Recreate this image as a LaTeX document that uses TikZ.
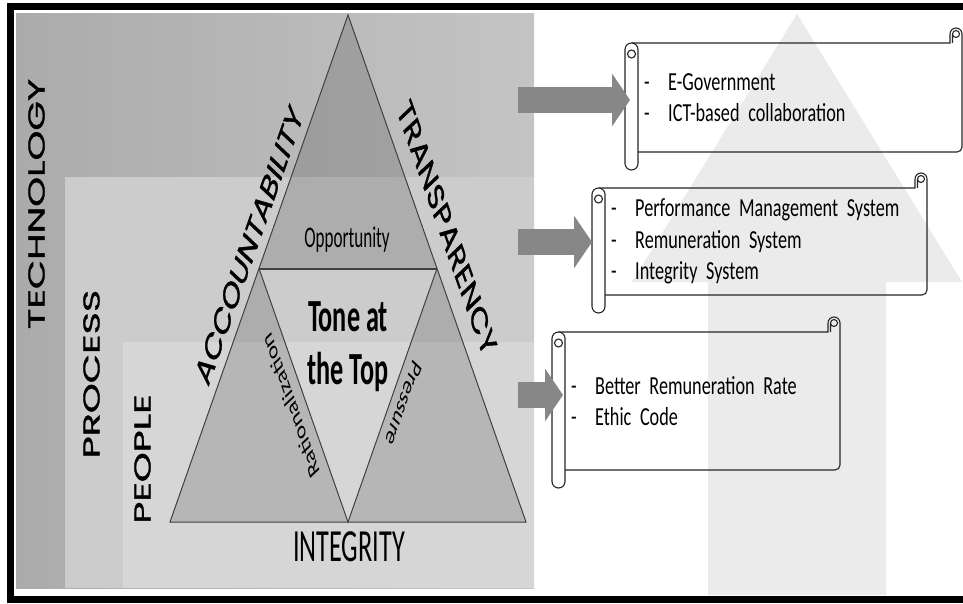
\documentclass[tikz,border=0pt]{standalone}
\usepackage{fontspec}
\setmainfont{Carlito}
\newfontfamily\geofont[FakeBold=1.2]{Poppins}
\newfontfamily\listfont[FakeStretch=0.7]{Carlito}
\newfontfamily\trifont[FakeStretch=0.57]{Carlito}
\usepackage{graphicx}
\usetikzlibrary{arrows.meta, positioning}

\definecolor{techgrayL}{gray}{0.67}
\definecolor{techgrayR}{gray}{0.77}
\definecolor{procgray}{gray}{0.80}
\definecolor{peoplegray}{gray}{0.84}
\definecolor{pillargray}{gray}{0.92}
\definecolor{arrowgray}{gray}{0.53}
\definecolor{edgegray}{gray}{0.25}

% rotate a label, then squeeze it sideways
\newcommand\tiltlabel[2]{\scalebox{0.61}[1]{\rotatebox{#1}{#2}}}
\newcommand\dashitem[1]{\makebox[24pt][l]{-}#1}
\newcommand\tightspaces{\fontdimen2\font=4.5pt\fontdimen3\font=1pt\relax}

\begin{document}
\begin{tikzpicture}[x=1pt, y=-1pt,
    bandlabel/.style={inner sep=0pt, font=\geofont\fontsize{38}{40}\selectfont},
    trilabel/.style={inner sep=0pt, font=\trifont\fontsize{30}{32}\selectfont},
    edgeline/.style={draw=edgegray, line width=1pt},
    scrollline/.style={draw=black!85, line width=1.1pt},
    listbox/.style={anchor=north west, inner xsep=19pt, inner ysep=0pt, align=left,
        font=\listfont\fontsize{26}{31.5}\selectfont\tightspaces},
    blockarrow/.style={arrowgray, line width=26pt, -{Triangle[length=18pt, width=52pt]}}]

    \fill[white] (0,0) rectangle (963,604);
    \useasboundingbox (0,0) rectangle (963,604);

    % Background pillar
    \fill[pillargray] (708,595) -- (708,282) -- (632,282) -- (797,14) -- (962,282) -- (886,282) -- (886,595) -- cycle;

    % Gray bands
    \shade[left color=techgrayL, right color=techgrayR] (16,14) rectangle (534,588);
    \fill[procgray] (65,177) rectangle (534,588);
    \fill[peoplegray] (123,342) rectangle (534,588);

    % Triangle
    \coordinate (apex) at (348,15);
    \coordinate (baseL) at (170,522);
    \coordinate (baseR) at (526,522);
    \coordinate (midL) at (259,268.5);
    \coordinate (midR) at (437,268.5);
    \coordinate (midB) at (348,522);

    \foreach \a/\b/\c in {apex/midL/midR, midL/baseL/midB, midR/midB/baseR} {
        \fill[black, fill opacity=0.15] (\a) -- (\b) -- (\c) -- cycle;
    }
    \draw[edgeline] (apex) -- (baseL) -- (baseR) -- cycle;
    \draw[edgeline] (midL) -- (midB) -- (midR);
    \draw[edgeline, line width=2pt] (midL) -- (midR);

    % Labels
    \node[bandlabel] (technology) at (36.5,204) {\tiltlabel{90}{TECHNOLOGY}};
    \node[bandlabel] (process) at (91.5,374) {\tiltlabel{90}{PROCESS}};
    \node[bandlabel] (people) at (142.5,459) {\tiltlabel{90}{PEOPLE}};
    \node[bandlabel] (accountability) at (249,245) {\tiltlabel{60}{ACCOUNTABILITY}};
    \node[bandlabel] (transparency) at (447,228) {\tiltlabel{-60}{TRANSPARENCY}};

    \node[trilabel] (opportunity) at (347,240) {Opportunity};
    \node[inner sep=0pt, align=center, font=\trifont\bfseries\fontsize{46}{53}\selectfont] (tone) at (348,347) {Tone at\\the Top};
    \node[inner sep=0pt, font=\fontsize{27}{30}\selectfont] (rationalization) at (291,406) {\tiltlabel{120}{Rationalization}};
    \node[inner sep=0pt, font=\fontsize{27}{30}\selectfont] (pressure) at (404,404) {\tiltlabel{-120}{Pressure}};
    \node[inner sep=0pt, font=\trifont\fontsize{46}{50}\selectfont] (integrity) at (349,547) {INTEGRITY};

    % Scrolls
    \foreach \xa/\ya/\xb/\yb in {625/43/962/152, 592/188/927/295, 552/332/840/470} {
        \draw[scrollline] (\xa+6.5,\ya) -- (\xb-12,\ya) -- (\xb-12,\ya-9) arc[start angle=180, end angle=360, radius=6]
            -- (\xb,\yb-5) arc[start angle=0, end angle=90, radius=5] -- (\xa+6.5,\yb);
        \draw[scrollline] (\xb-6,\ya-9) circle[radius=3.5] (\xb-9.5,\ya-9) -- (\xb-9.5,\ya);
        \draw[scrollline, fill=white, rounded corners=6.5pt] (\xa,\ya) rectangle (\xa+13,\yb+18);
        \draw[scrollline] (\xa+6.5,\ya+11) circle[radius=4];
    }

    \node[listbox, text width=299pt, minimum height=109pt] (techbox) at (625,43)
        {\dashitem{E-Government}\\ \dashitem{ICT-based collaboration}};
    \node[listbox, text width=297pt, minimum height=107pt] (procbox) at (592,188)
        {\dashitem{Performance Management System}\\ \dashitem{Remuneration System}\\ \dashitem{Integrity System}};
    \node[listbox, text width=250pt, minimum height=138pt] (peoplebox) at (552,332)
        {\dashitem{Better Remuneration Rate}\\ \dashitem{Ethic Code}};

    % Block arrows
    \coordinate (techfrom) at (518,100);
    \coordinate (procfrom) at (518,242);
    \coordinate (peoplefrom) at (518,395);
    \draw[blockarrow] (techfrom) -- ([xshift=5pt]techfrom -| techbox.west);
    \draw[blockarrow] (procfrom) -- (procfrom -| procbox.west);
    \draw[blockarrow] (peoplefrom) -- ([xshift=11pt]peoplefrom -| peoplebox.west);

    % Frame
    \draw[line width=7pt] (10.5,6.5) rectangle (975,599.5);

\end{tikzpicture}
\end{document}
